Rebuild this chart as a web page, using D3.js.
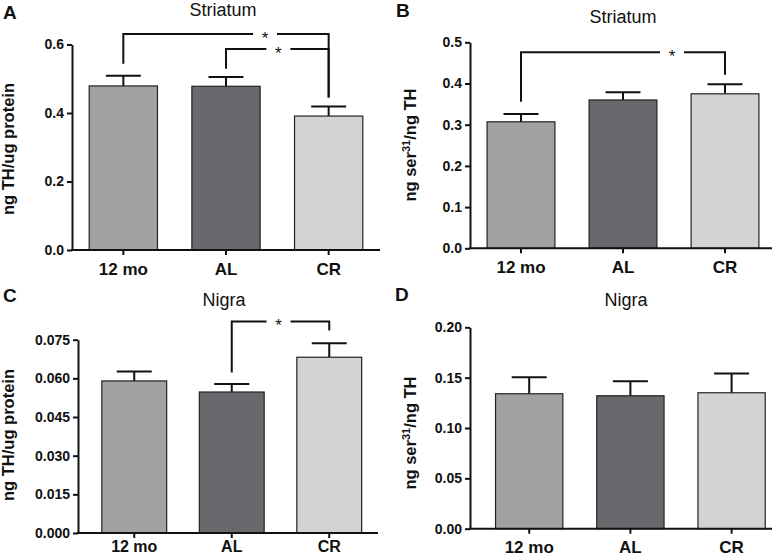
<!DOCTYPE html>
<html>
<head>
<meta charset="utf-8">
<script src="https://cdn.jsdelivr.net/npm/d3@7"></script>
<style>
  html, body { margin: 0; padding: 0; background: #fff; }
  svg { display: block; font-family: "Liberation Sans", Arial, sans-serif; }
</style>
</head>
<body>
<svg id="chart" width="784" height="556"></svg>
<script>
// ---- data ----
const categories = ["12 mo", "AL", "CR"];
const barColors = ["#a1a2a4", "#68696d", "#d2d3d4"];

const meansA = [0.479, 0.478, 0.391];
const semA   = [0.030, 0.027, 0.028];
const ticksA = [0, 0.2, 0.4, 0.6];

const meansB = [0.307, 0.360, 0.375];
const semB   = [0.019, 0.019, 0.023];
const ticksB = [0, 0.1, 0.2, 0.3, 0.4, 0.5];

const meansC = [0.0590, 0.0547, 0.0682];
const semC   = [0.0037, 0.0031, 0.0054];
const ticksC = [0, 0.015, 0.030, 0.045, 0.060, 0.075];

const meansD = [0.134, 0.132, 0.135];
const semD   = [0.0165, 0.0145, 0.019];
const ticksD = [0, 0.05, 0.10, 0.15, 0.20];

// significance brackets: from/to category index, heights in data units
const bracketsA = [
  { from: 0, to: 2, level: 0.631, leftEnd: 0.544, rightEnd: 0.445, label: "*", starAt: 0.69 },
  { from: 1, to: 2, level: 0.587, leftEnd: 0.529, rightEnd: 0.445, label: "*", starAt: 0.51 }
];
const bracketsB = [
  { from: 0, to: 2, level: 0.476, leftEnd: 0.356, rightEnd: 0.421, label: "*", starAt: 0.74 }
];
const bracketsC = [
  { from: 1, to: 2, level: 0.0821, leftEnd: 0.0623, rightEnd: 0.0786, label: "*", starAt: 0.48 }
];
const bracketsD = [];

// ---- layout ----
const panels = [
  { letter: "A", title: "Striatum", means: meansA, sem: semA, ticks: ticksA, fmt: ".1f", brackets: bracketsA,
    yLabel: "th", xFont: 17, xPad: 8,
    x0: 72, band: [72, 380], axisEnd: 380, y0: 250, yTop: 44.5,
    titleX: 223, titleY: 16, letterX: 3, letterY: 19, labX: 14, labY: 149 },
  { letter: "B", title: "Striatum", means: meansB, sem: semB, ticks: ticksB, fmt: ".1f", brackets: bracketsB,
    yLabel: "ser", xFont: 17, xPad: 8,
    x0: 470, band: [470, 776], axisEnd: 772, y0: 248.3, yTop: 42.3,
    titleX: 623, titleY: 23, letterX: 396, letterY: 17, labX: 416, labY: 145 },
  { letter: "C", title: "Nigra", means: meansC, sem: semC, ticks: ticksC, fmt: ".3f", brackets: bracketsC,
    yLabel: "th", xFont: 16, xPad: 3,
    x0: 78, band: [85.5, 378], axisEnd: 378, y0: 533, yTop: 339.7,
    titleX: 224, titleY: 306, letterX: 3, letterY: 302, labX: 14, labY: 435 },
  { letter: "D", title: "Nigra", means: meansD, sem: semD, ticks: ticksD, fmt: ".2f", brackets: bracketsD,
    yLabel: "ser", xFont: 17, xPad: 7,
    x0: 470, band: [478.6, 782.2], axisEnd: 772, y0: 528.7, yTop: 327.3,
    titleX: 626, titleY: 306, letterX: 395, letterY: 301, labX: 416, labY: 433 }
];

const svg = d3.select("#chart");

panels.forEach(p => {
  const g = svg.append("g");
  const x = d3.scaleBand().domain(categories).range(p.band).paddingInner(0.335).paddingOuter(0.1675);
  const yMax = p.ticks[p.ticks.length - 1];
  const y = d3.scaleLinear().domain([0, yMax]).range([p.y0, p.yTop]);

  const data = categories.map((c, i) => ({ c, m: p.means[i], e: p.sem[i], col: barColors[i] }));

  // error bars (drawn first so bar covers lower part)
  data.forEach(d => {
    const cx = x(d.c) + x.bandwidth() / 2;
    g.append("line").attr("x1", cx).attr("x2", cx).attr("y1", y(d.m)).attr("y2", y(d.m + d.e))
      .attr("stroke", "#111").attr("stroke-width", 2);
    g.append("line").attr("x1", cx - 17.5).attr("x2", cx + 17.5).attr("y1", y(d.m + d.e)).attr("y2", y(d.m + d.e))
      .attr("stroke", "#111").attr("stroke-width", 2);
  });

  g.selectAll("rect.bar").data(data).join("rect")
    .attr("class", "bar")
    .attr("x", d => x(d.c))
    .attr("width", x.bandwidth())
    .attr("y", d => y(d.m))
    .attr("height", d => y(0) - y(d.m))
    .attr("fill", d => d.col)
    .attr("stroke", "#222")
    .attr("stroke-width", 1.2);

  // y axis
  const yAxis = d3.axisLeft(y).tickValues(p.ticks).tickFormat(d3.format(p.fmt)).tickSize(5).tickPadding(3).tickSizeOuter(0);
  const ya = g.append("g").attr("transform", `translate(${p.x0},0)`).call(yAxis);
  ya.select(".domain").attr("stroke", "#111").attr("stroke-width", 2);
  ya.selectAll(".tick line").attr("stroke", "#111").attr("stroke-width", 2);
  ya.selectAll(".tick text").attr("font-size", 14).attr("font-weight", "bold").attr("fill", "#111")
    .attr("font-family", "'Liberation Sans', Arial, sans-serif");

  // x axis
  const xAxis = d3.axisBottom(x).tickSize(5).tickPadding(p.xPad).tickSizeOuter(0);
  const xa = g.append("g").attr("transform", `translate(0,${p.y0})`).call(xAxis);
  xa.select(".domain").remove();
  xa.append("line").attr("x1", p.x0 - 1).attr("x2", p.axisEnd).attr("y1", 0).attr("y2", 0)
    .attr("stroke", "#111").attr("stroke-width", 2);
  xa.selectAll(".tick line").attr("stroke", "#111").attr("stroke-width", 2);
  xa.selectAll(".tick text").attr("font-size", p.xFont).attr("font-weight", "bold").attr("fill", "#111")
    .attr("font-family", "'Liberation Sans', Arial, sans-serif");

  // brackets
  p.brackets.forEach(b => {
    const xl = x(categories[b.from]) + x.bandwidth() / 2;
    const xr = x(categories[b.to]) + x.bandwidth() / 2;
    const yl = y(b.level);
    const sx = xl + (xr - xl) * b.starAt;
    const gap = 12;
    const path = `M${xl},${y(b.leftEnd)}V${yl}H${sx - gap}M${sx + gap},${yl}H${xr}V${y(b.rightEnd)}`;
    g.append("path").attr("d", path).attr("fill", "none").attr("stroke", "#111").attr("stroke-width", 2);
    g.append("text").attr("x", sx).attr("y", yl + 10).attr("text-anchor", "middle")
      .attr("font-size", 17).attr("fill", "#111").text(b.label);
  });

  // title
  g.append("text").attr("x", p.titleX).attr("y", p.titleY).attr("text-anchor", "middle")
    .attr("font-size", 18).attr("fill", "#111").text(p.title);
  // panel letter
  g.append("text").attr("x", p.letterX).attr("y", p.letterY)
    .attr("font-size", 19).attr("font-weight", "bold").attr("fill", "#111").text(p.letter);

  // y label
  const yl = g.append("text").attr("transform", `translate(${p.labX},${p.labY}) rotate(-90)`)
    .attr("text-anchor", "middle").attr("font-size", 16.5).attr("font-weight", "bold").attr("fill", "#111");
  if (p.yLabel === "ser") {
    yl.append("tspan").text("ng ser");
    yl.append("tspan").attr("font-size", 11).attr("dy", -6).text("31");
    yl.append("tspan").attr("dy", 6).text("/ng TH");
  } else {
    yl.text("ng TH/ug protein");
  }
});
</script>
</body>
</html>
